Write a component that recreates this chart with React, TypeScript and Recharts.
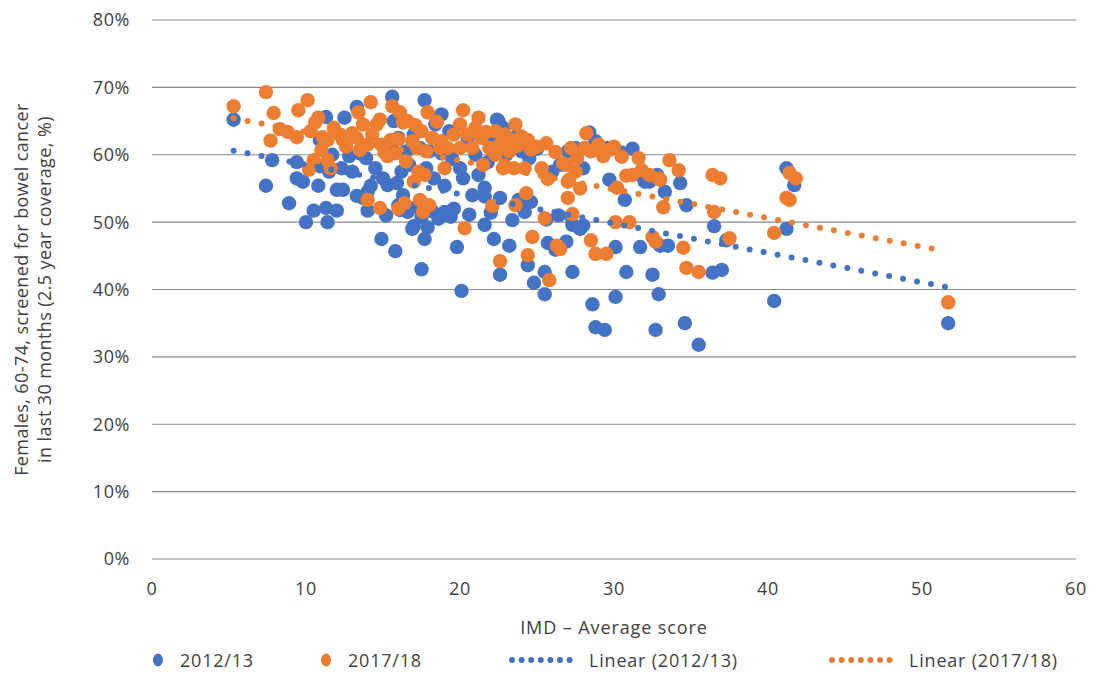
import { CartesianGrid, Scatter, ScatterChart, XAxis, YAxis } from 'recharts'

const BLUE = '#4472C4'
const ORANGE = '#ED7D31'
const FONT = '"Open Sans", sans-serif'

const xTicks = [0, 10, 20, 30, 40, 50, 60]
const yTicks = [0, 10, 20, 30, 40, 50, 60, 70, 80]

// IMD average score vs % screened, 2012/13
const scores2012 = [
  5.3, 7.4, 7.8, 8.9, 9.4, 9.4, 9.8, 10.0, 10.5, 10.8, 11.3, 11.4, 10.9, 11.3, 12.0, 12.0, 12.4,
  13.3, 13.3, 13.7, 14.0, 14.2, 14.9, 15.6, 15.8, 16.0, 16.1, 17.0, 17.5, 17.7, 17.7, 18.5, 19.0,
  19.2, 19.8, 20.1, 20.6, 21.6, 21.6, 22.0, 22.2, 22.6, 22.4, 23.2, 23.4, 24.2, 24.8, 24.4, 25.5,
  25.5, 25.7, 26.2, 26.9, 27.3, 27.3, 27.8, 28.4, 28.6, 28.8, 29.4, 29.7, 30.1, 30.1, 30.8, 30.7,
  31.7, 31.7, 32.3, 32.5, 32.7, 32.9, 33.0, 33.5, 34.3, 34.7, 34.6, 35.5, 36.4, 37.0, 36.5, 37.3,
  40.4, 41.2, 41.2, 41.7, 51.7,
  10.9, 11.5, 12.8, 13.5, 13.9, 14.5, 15.0, 15.3, 15.9, 16.3, 16.6, 16.9, 17.2, 17.5, 17.9, 18.2,
  18.6, 19.0, 19.4, 15.6, 16.0, 16.5, 17.0, 17.4, 18.0, 18.8, 19.5, 20.0, 20.5, 21.0, 21.2, 21.8,
  22.0, 22.8, 23.0, 23.5, 24.0, 24.5, 25.0, 26.0, 26.5, 27.0, 27.5, 28.0, 28.8, 29.6, 30.5, 31.2,
  32.0, 32.8, 33.3, 23.8, 24.6, 25.6, 26.4, 27.2, 28.0, 22.6, 21.6, 20.8, 19.6, 13.0, 12.3, 11.7,
  14.0, 15.2, 16.7, 16.2, 17.8, 18.3, 20.2, 12.5, 15.7, 18.4, 18.8, 22.5, 19.3
]
const pct2012 = [
  65.2, 55.4, 59.2, 52.8, 58.9, 56.5, 56.0, 50.0, 51.7, 55.4, 52.1, 50.0, 62.2, 65.6, 54.8, 51.7, 54.8,
  67.1, 53.9, 53.6, 51.7, 55.4, 47.5, 68.6, 45.7, 52.5, 51.8, 49.4, 43.0, 68.1, 47.5, 65.2, 55.4,
  51.1, 46.3, 39.8, 51.1, 55.1, 49.6, 51.4, 47.5, 42.2, 65.2, 46.5, 50.3, 51.5, 41.0, 43.6, 42.6,
  39.3, 46.9, 45.9, 47.1, 49.6, 42.6, 49.0, 63.3, 37.8, 34.4, 34.0, 56.3, 38.9, 46.3, 42.6, 53.3,
  57.0, 46.3, 56.0, 42.2, 34.0, 39.3, 46.5, 46.5, 55.8, 52.5, 35.0, 31.8, 42.5, 42.9, 49.4, 47.3,
  38.3, 58.0, 49.0, 55.5, 35.0,
  58.3, 57.5, 59.8, 60.2, 59.5, 58.0, 56.5, 55.5, 55.8, 54.0, 51.5, 49.0, 52.3, 50.8, 49.2, 51.6,
  50.5, 51.5, 50.8, 61.5, 62.5, 60.5, 63.0, 61.0, 60.5, 60.2, 59.4, 58.0, 62.5, 60.0, 57.0, 58.9,
  62.4, 64.0, 60.0, 62.5, 60.5, 59.5, 60.9, 57.5, 58.5, 60.5, 61.0, 58.0, 62.0, 61.0, 60.3, 60.9,
  56.0, 57.0, 54.5, 53.3, 53.0, 50.4, 51.0, 50.9, 49.5, 53.6, 53.8, 54.0, 52.0, 57.5, 58.0, 60.0,
  54.5, 51.0, 58.5, 57.5, 58.0, 56.5, 56.5, 65.5, 65.0, 64.5, 66.0, 65.0, 63.5
]

// IMD average score vs % screened, 2017/18
const scores2017 = [
  5.3, 7.4, 7.7, 7.9, 8.3, 8.8, 9.4, 9.5, 10.1, 10.5, 11.0, 11.4, 11.4, 12.4, 13.3, 13.4, 14.2,
  14.0, 14.8, 14.8, 15.1, 15.5, 15.6, 16.1, 16.4, 17.1, 17.4, 17.7, 17.9, 18.0, 18.5, 18.7, 20.0,
  20.2, 20.3, 21.2, 21.7, 22.1, 22.3, 22.6, 22.9, 23.4, 23.6, 23.6, 24.4, 24.3, 24.4, 24.7, 25.5,
  25.6, 25.7, 25.8, 26.3, 26.9, 27.0, 27.1, 27.3, 28.1, 28.2, 28.5, 28.8, 29.5, 29.7, 30.2, 30.1,
  30.8, 31.0, 31.6, 31.8, 32.5, 32.7, 33.0, 33.2, 33.6, 34.2, 34.5, 34.7, 35.5, 36.4, 36.9, 36.5,
  37.5, 40.4, 41.2, 41.4, 41.4, 41.8, 51.7,
  10.3, 10.6, 10.8, 11.1, 11.8, 12.2, 13.0, 13.7, 14.3, 14.6, 14.9, 15.3, 15.8, 16.0, 16.3, 16.6,
  16.9, 17.2, 17.5, 17.8, 18.2, 18.8, 19.2, 19.6, 20.0, 20.5, 20.8, 21.0, 21.4, 21.9, 22.3, 22.6,
  22.9, 23.2, 23.7, 24.0, 24.6, 25.0, 25.3, 26.2, 26.7, 27.2, 27.6, 28.5, 29.0, 29.3, 30.0, 30.5,
  31.2, 32.3, 32.9, 14.0, 13.5, 12.6, 11.6, 10.2, 17.0, 17.3, 16.5, 19.0, 21.5, 23.5, 16.0, 17.6,
  22.8, 24.2, 27.8, 27.5, 26.5, 27.0
]
const pct2017 = [
  67.2, 69.3, 62.1, 66.2, 63.8, 63.4, 62.6, 66.6, 68.1, 59.2, 60.7, 62.2, 59.2, 62.2, 62.5, 66.3, 67.8,
  53.3, 65.2, 52.1, 60.3, 62.2, 67.2, 66.3, 52.8, 64.4, 53.3, 57.0, 66.3, 52.5, 64.9, 61.0, 61.0,
  66.6, 49.1, 65.5, 63.4, 52.4, 63.5, 44.2, 58.4, 62.2, 64.5, 52.5, 62.2, 54.3, 45.1, 47.8, 50.6,
  61.7, 56.4, 41.4, 46.5, 58.5, 53.6, 56.3, 51.2, 61.0, 63.2, 47.3, 45.3, 45.3, 60.7, 55.1, 50.0,
  56.9, 50.0, 59.5, 57.7, 47.8, 47.1, 56.3, 52.2, 59.2, 57.7, 46.2, 43.2, 42.6, 57.0, 56.5, 51.5,
  47.6, 48.4, 53.6, 57.3, 53.3, 56.5, 38.1,
  63.5, 64.8, 65.5, 62.6, 64.0, 63.0, 63.2, 64.5, 63.0, 64.5, 61.5, 59.8, 60.2, 62.3, 64.8, 65.0,
  62.0, 61.0, 63.5, 60.5, 62.5, 62.0, 61.0, 63.0, 64.5, 63.0, 61.0, 64.0, 62.5, 61.0, 60.0, 61.5,
  63.0, 60.5, 61.3, 62.7, 60.8, 61.2, 58.0, 60.4, 58.7, 61.0, 59.5, 60.5, 61.5, 59.8, 61.2, 59.7,
  57.0, 57.0, 56.5, 61.5, 60.7, 61.2, 58.0, 57.8, 56.0, 57.5, 59.0, 58.0, 58.5, 58.0, 52.0, 51.5,
  58.0, 58.0, 55.0, 57.5, 46.0, 56.0
]

// linear trend end points
const trendScores = [5.3, 51.5]
const trend2012 = [60.6, 40.4]
const trend2017 = [65.4, 45.7]

const toPoints = (xs: number[], ys: number[]) => xs.map((x, i) => ({ x, y: ys[i] }))

const dot = (color: string) => (props: any) => (
  <circle cx={props.cx} cy={props.cy} r={7.2} fill={color} />
)
const noDot = () => <g />

const trendLine = (color: string) => ({
  stroke: color,
  strokeWidth: 6,
  strokeDasharray: '0 14.2',
  strokeLinecap: 'round' as const
})

function YLabel({ viewBox }: any) {
  const cy = viewBox.y + viewBox.height / 2
  return (
    <text
      transform={`translate(20, ${cy}) rotate(-90)`}
      textAnchor="middle"
      fill="#404040"
      fontSize={18}
      fontFamily={FONT}
      letterSpacing={0.4}
    >
      <tspan x={0} dy={0}>Females, 60-74, screened for bowel cancer</tspan>
      <tspan x={0} dy={23}>in last 30 months (2.5 year coverage, %)</tspan>
    </text>
  )
}

function LegendDots({ color }: { color: string }) {
  return (
    <svg width={64} height={10}>
      <line
        x1={3}
        y1={5}
        x2={61}
        y2={5}
        stroke={color}
        strokeWidth={6}
        strokeDasharray="0 9.6"
        strokeLinecap="round"
      />
    </svg>
  )
}

function Marker({ color }: { color: string }) {
  return (
    <svg width={12} height={14}>
      <ellipse cx={6} cy={7} rx={5} ry={6.5} fill={color} />
    </svg>
  )
}

export default function App() {
  const tick = { fill: '#404040', fontSize: 18, fontFamily: FONT, letterSpacing: 0.6 }
  const item = (left: number) => ({
    position: 'absolute' as const,
    left,
    top: 0,
    display: 'flex',
    alignItems: 'center',
    gap: 16,
    whiteSpace: 'nowrap' as const
  })
  return (
    <div style={{ position: 'relative', width: 1080, height: 667, fontFamily: FONT }}>
      <ScatterChart width={1080} height={640} margin={{ top: 12, right: 12, bottom: 0, left: 0 }}>
        <CartesianGrid vertical={false} stroke="#8a8a8a" strokeWidth={1.2} />
        <XAxis
          type="number"
          dataKey="x"
          domain={[0, 60]}
          ticks={xTicks}
          axisLine={false}
          tickLine={false}
          tickMargin={17}
          tick={tick}
          height={89}
          label={{
            value: 'IMD – Average score',
            position: 'insideBottom',
            offset: 14,
            fill: '#404040',
            fontSize: 18,
            fontFamily: FONT,
            letterSpacing: 0.9
          }}
        />
        <YAxis
          type="number"
          dataKey="y"
          domain={[0, 80]}
          ticks={yTicks}
          tickFormatter={(v) => `${v}%`}
          axisLine={false}
          tickLine={false}
          tickMargin={16}
          tick={tick}
          width={144}
          label={<YLabel />}
        />
        <Scatter
          data={toPoints(scores2012, pct2012)}
          shape={dot(BLUE)}
          isAnimationActive={false}
        />
        <Scatter
          data={toPoints(scores2017, pct2017)}
          shape={dot(ORANGE)}
          isAnimationActive={false}
        />
        <Scatter
          data={toPoints(trendScores, trend2012)}
          line={trendLine(BLUE)}
          shape={noDot}
          isAnimationActive={false}
        />
        <Scatter
          data={toPoints(trendScores, trend2017)}
          line={trendLine(ORANGE)}
          shape={noDot}
          isAnimationActive={false}
        />
      </ScatterChart>
      <div
        style={{
          position: 'absolute',
          top: 640,
          left: 0,
          width: 1080,
          height: 24,
          color: '#404040',
          fontSize: 18,
          lineHeight: '24px',
          letterSpacing: 0.8
        }}
      >
        <div style={item(144)}>
          <Marker color={BLUE} />
          <span>2012/13</span>
        </div>
        <div style={item(312)}>
          <Marker color={ORANGE} />
          <span>2017/18</span>
        </div>
        <div style={item(501)}>
          <LegendDots color={BLUE} />
          <span>Linear (2012/13)</span>
        </div>
        <div style={item(821)}>
          <LegendDots color={ORANGE} />
          <span>Linear (2017/18)</span>
        </div>
      </div>
    </div>
  )
}
